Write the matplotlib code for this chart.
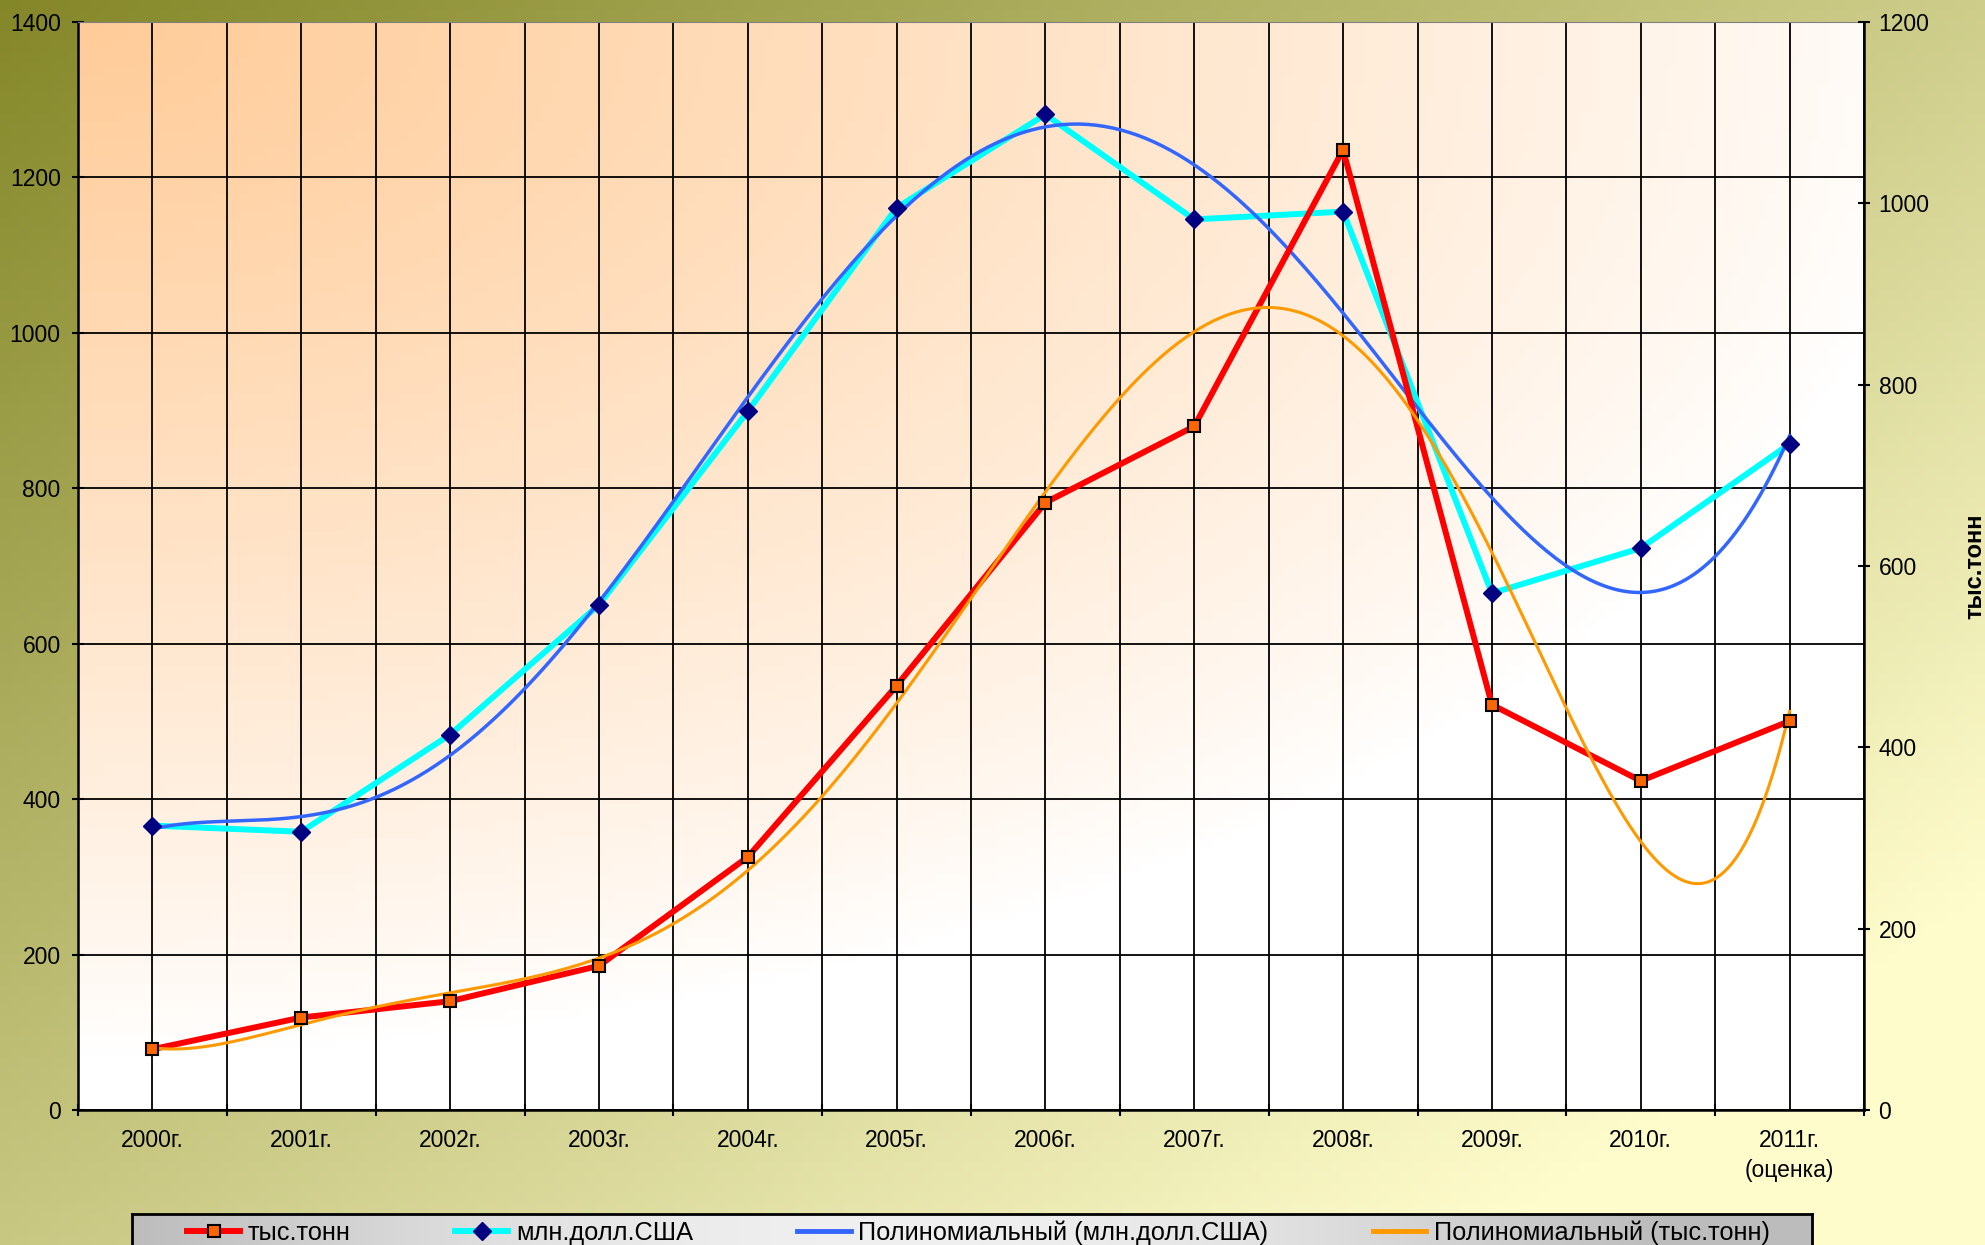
import numpy as np
import matplotlib
matplotlib.use('Agg')
import matplotlib.pyplot as plt
from matplotlib.lines import Line2D

plt.rcParams['font.family'] = ['Liberation Sans', 'DejaVu Sans']

# данные
years = ['2000г.', '2001г.', '2002г.', '2003г.', '2004г.', '2005г.',
         '2006г.', '2007г.', '2008г.', '2009г.', '2010г.', '2011г.\n(оценка)']
tonnes = [67, 102, 120, 159, 279, 468, 670, 754, 1059, 447, 363, 429]       # тыс.тонн, правая ось
usd = [366, 358, 483, 650, 899, 1161, 1281, 1146, 1156, 665, 723, 857]      # млн.долл.США, левая ось
left_ticks = [0, 200, 400, 600, 800, 1000, 1200, 1400]
right_ticks = [0, 200, 400, 600, 800, 1000, 1200]

x = np.arange(len(years))

# полиномиальные линии тренда (6-я степень, как в Excel)
xs = np.linspace(0, len(years) - 1, 400)
trend_usd = np.polyval(np.polyfit(x + 1, usd, 6), xs + 1)
trend_t = np.polyval(np.polyfit(x + 1, tonnes, 6), xs + 1)

W, H = 1985, 1245
fig = plt.figure(figsize=(W / 100, H / 100), dpi=100)

# фон рисунка - диагональный градиент
bg = fig.add_axes([0, 0, 1, 1])
bg.axis('off')
yy, xx = np.mgrid[0:1:120j, 0:1:200j]
t = np.clip(xx * 0.6 + yy * 0.55, 0, 1)
c0 = np.array([0.52, 0.53, 0.16])
c1 = np.array([1.0, 0.99, 0.80])
bg.imshow(c0 + (c1 - c0) * t[..., None], extent=[0, 1, 0, 1], aspect='auto', origin='upper')

ax = fig.add_axes([78 / W, 1 - 1110 / H, (1864 - 78) / W, (1110 - 22) / H])
ax2 = ax.twinx()

# фон области построения
r = np.sqrt((xx / 1.05) ** 2 + (yy / 0.95) ** 2)
s = np.clip(1 - r, 0, 1) ** 0.85
peach = np.array([1.0, 0.8, 0.6])
plot_img = 1 - s[..., None] * (1 - peach)
ax.imshow(plot_img, extent=[-0.5, 11.5, 0, 1400], aspect='auto', origin='upper', zorder=0)

ax.plot(x, usd, color='#00ffff', lw=4.3, zorder=3)
ax.plot(xs, trend_usd, color='#3366ff', lw=2.5, zorder=4)
ax.plot(x, usd, ls='none', marker='D', ms=9.5, mfc='#000080', mec='#000080', zorder=5)

ax2.plot(x, tonnes, color='#ff0000', lw=4.3, zorder=3)
ax2.plot(xs, trend_t, color='#ff9900', lw=2.2, zorder=4)
ax2.plot(x, tonnes, ls='none', marker='s', ms=8.5, mfc='#ff6600', mec='black', mew=1.5, zorder=5)

ax.set_xlim(-0.5, 11.5)
ax.set_ylim(0, 1400)
ax2.set_ylim(0, 1200)
ax.set_yticks(left_ticks)
ax2.set_yticks(right_ticks)

ax.set_xticks(np.arange(-0.5, 12, 1))
ax.set_xticklabels([])
ax.set_xticks(x, minor=True)
ax.set_xticklabels(years, minor=True)
ax.get_xticklabels(minor=True)[-1].set_linespacing(1.35)

ax.set_axisbelow(True)
ax.grid(which='both', axis='x', color='black', lw=1.3)
ax.grid(which='major', axis='y', color='black', lw=1.3)

ax.tick_params(axis='y', direction='inout', length=9, width=1.5, labelsize=16.5, pad=8)
ax.tick_params(axis='x', which='major', direction='inout', length=9, width=1.5)
ax.tick_params(axis='x', which='minor', length=0, labelsize=16.5, pad=14)
ax2.tick_params(axis='y', direction='inout', length=9, width=1.5, labelsize=16.5, pad=6)

for sp in ['left', 'bottom']:
    ax.spines[sp].set_linewidth(1.8)
ax.spines['top'].set_color('#808080')
ax.spines['right'].set_visible(False)
for sp in ['left', 'bottom', 'top']:
    ax2.spines[sp].set_visible(False)
ax2.spines['right'].set_linewidth(1.8)

fig.text(1975 / W, 1 - 566 / H, 'тыс.тонн', rotation=90, ha='center', va='center',
         fontsize=17, fontweight='bold')

# легенда на сером градиенте
lg = fig.add_axes([132 / W, 0, (1812 - 132) / W, (1245 - 1214) / H])
gx = np.linspace(0, 1, 300)
gray = 0.74 + 0.2 * np.sin(np.pi * np.clip(gx * 1.1, 0, 1))
lg.imshow(np.tile(gray, (10, 1))[..., None].repeat(3, axis=2), extent=[0, 1, 0, 1],
          aspect='auto', vmin=0, vmax=1)
lg.set_xticks([])
lg.set_yticks([])
for sp in lg.spines.values():
    sp.set_linewidth(2)
lg.spines['bottom'].set_visible(False)

handles = [
    Line2D([], [], color='#ff0000', lw=4.3, marker='s', ms=8.5, mfc='#ff6600', mec='black', mew=1.5),
    Line2D([], [], color='#00ffff', lw=4.3, marker='D', ms=9.5, mfc='#000080', mec='#000080'),
    Line2D([], [], color='#3366ff', lw=3.5),
    Line2D([], [], color='#ff9900', lw=3.5),
]
labels = ['тыс.тонн', 'млн.долл.США', 'Полиномиальный (млн.долл.США)', 'Полиномиальный (тыс.тонн)']
fig.legend(handles, labels, loc='center left', bbox_to_anchor=(187 / W, 1 - 1233 / H), ncol=4,
           frameon=False, fontsize=18.3, handlelength=2.1, handletextpad=0.3,
           columnspacing=4.1, borderpad=0, borderaxespad=0)

fig.savefig('out.png', dpi=100)
